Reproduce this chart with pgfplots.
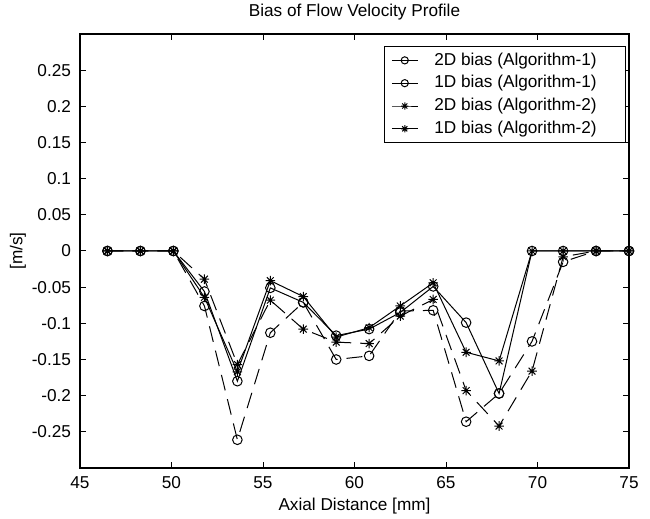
\documentclass[border=0pt]{standalone}
\usepackage{fontspec}
\setmainfont{Liberation Sans}
\usepackage{pgfplots}
\usepackage{pgfplotstable}
\pgfplotsset{compat=1.18}

\pgfdeclareplotmark{mstar}{%
  \pgfpathmoveto{\pgfqpoint{-\pgfplotmarksize}{0pt}}%
  \pgfpathlineto{\pgfqpoint{\pgfplotmarksize}{0pt}}%
  \pgfpathmoveto{\pgfqpoint{0pt}{-\pgfplotmarksize}}%
  \pgfpathlineto{\pgfqpoint{0pt}{\pgfplotmarksize}}%
  \pgfpathmoveto{\pgfqpoint{-0.707\pgfplotmarksize}{-0.707\pgfplotmarksize}}%
  \pgfpathlineto{\pgfqpoint{0.707\pgfplotmarksize}{0.707\pgfplotmarksize}}%
  \pgfpathmoveto{\pgfqpoint{-0.707\pgfplotmarksize}{0.707\pgfplotmarksize}}%
  \pgfpathlineto{\pgfqpoint{0.707\pgfplotmarksize}{-0.707\pgfplotmarksize}}%
  \pgfusepathqstroke}

\pgfplotstableread{
x     ctwo    cone    stwo    sone
46.5  0       0       0       0
48.3  0       0       0       0
50.1  0       0       0       0
51.8  -0.056  -0.076  -0.064  -0.039
53.6  -0.180  -0.261  -0.167  -0.157
55.4  -0.051  -0.113  -0.041  -0.068
57.2  -0.071  -0.071  -0.063  -0.108
59.0  -0.117  -0.150  -0.119  -0.126
60.8  -0.108  -0.145  -0.106  -0.128
62.5  -0.085  -0.083  -0.076  -0.090
64.3  -0.049  -0.082  -0.044  -0.067
66.1  -0.099  -0.236  -0.140  -0.193
67.9  -0.197  -0.197  -0.152  -0.242
69.7  0       -0.125  0       -0.166
71.4  0       -0.015  0       -0.008
73.2  0       0       0       0
75.0  0       0       0       0
}\data

\newcommand{\fs}{\fontsize{8.6bp}{10.3bp}\selectfont}

\begin{document}
\begin{tikzpicture}
\begin{axis}[
  name=ax,
  width=274.5bp, height=217bp, scale only axis,
  xmin=45, xmax=75, ymin=-0.3, ymax=0.3,
  xtick={45,50,55,60,65,70,75},
  xticklabels={45,50,55,60,65,70,75},
  ytick={-0.25,-0.2,-0.15,-0.1,-0.05,0,0.05,0.1,0.15,0.2,0.25},
  yticklabels={-0.25,-0.2,-0.15,-0.1,-0.05,0,0.05,0.1,0.15,0.2,0.25},
  tick align=inside, tick pos=both, major tick length=2.8bp,
  axis line style={line width=0.6bp},
  tick style={line width=0.5bp, black},
  clip=false,
  font=\fs,
  ticklabel style={font=\fs},
  xticklabel style={anchor=base, yshift=-10bp},
  yticklabel style={anchor=east, xshift=-1bp},
  every axis title shift=0pt,
  title={Bias of Flow Velocity Profile},
  title style={at={(axis description cs:0.5,1)}, anchor=base, yshift=8.5bp, font=\fs},
  xlabel={Axial Distance [mm]},
  xlabel style={at={(axis description cs:0.5,0)}, anchor=base, yshift=-21bp, font=\fs},
  ylabel={[m/s]},
  ylabel style={at={(axis description cs:0,0.5)}, anchor=center, rotate=0, yshift=31bp, font=\fs},
  legend cell align=left,
  legend style={at={(axis description cs:0.995,0.972)}, anchor=north east,
    draw=black, line width=0.5bp, font=\fs, fill=white,
    inner xsep=3.5bp, inner ysep=1bp, row sep=-0.3bp,
    nodes={inner xsep=3bp}},
  legend image code/.code={%
    \draw[solid, mark repeat=2, mark phase=2, mark size=1.8bp, line width=0.5bp]
      plot coordinates {(0bp,0bp) (6.5bp,0bp) (13bp,0bp)};},
]
\addplot[black, line width=0.5bp, mark=o, mark size=2.4bp, mark options={solid}]
  table[x=x, y=ctwo] {\data};
\addlegendentry{\kern5bp 2D bias (Algorithm-1)\kern8bp\null}
\addplot[black, line width=0.5bp, dash pattern=on 8bp off 4.5bp, mark=o, mark size=2.4bp, mark options={solid}]
  table[x=x, y=cone] {\data};
\addlegendentry{\kern5bp 1D bias (Algorithm-1)}
\addplot[black, line width=0.5bp, mark=mstar, mark size=2.4bp, mark options={solid}]
  table[x=x, y=stwo] {\data};
\addlegendentry{\kern5bp 2D bias (Algorithm-2)}
\addplot[black, line width=0.5bp, dash pattern=on 8bp off 4.5bp, mark=mstar, mark size=2.4bp, mark options={solid}]
  table[x=x, y=sone] {\data};
\addlegendentry{\kern5bp 1D bias (Algorithm-2)}
\end{axis}
\pgfresetboundingbox
\path[shift={(ax.south west)}] (-40bp,-25.5bp) rectangle (285bp,234bp);
\end{tikzpicture}
\end{document}
